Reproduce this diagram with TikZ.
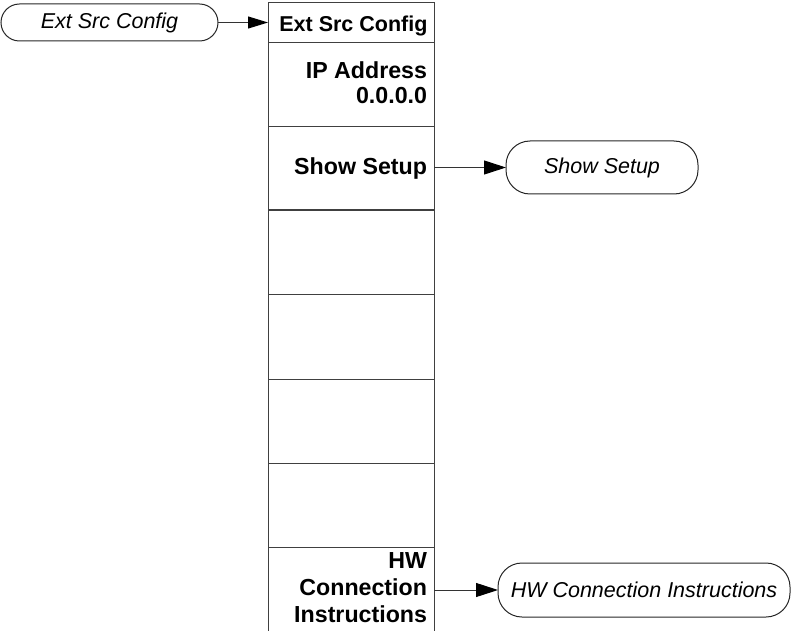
\documentclass[tikz,border=0pt]{standalone}
\usepackage{fontspec}
\setmainfont{Liberation Sans}
\usetikzlibrary{arrows.meta}
\begin{document}
\begin{tikzpicture}[x=1bp,y=-1bp,
  line width=1bp,
  every node/.style={outer sep=0pt},
  cell/.style={draw=black!75, minimum width=166bp, inner sep=0pt, anchor=north west},
  pill/.style={draw=black!85, rounded corners=#1, inner sep=0pt,
    font=\fontsize{21.5bp}{24bp}\selectfont\itshape},
  lbl/.style={anchor=east, align=right, inner sep=0pt,
    font=\fontsize{23.2bp}{#1}\selectfont\bfseries},
  head/.style={anchor=east, inner sep=0pt,
    font=\fontsize{21.5bp}{24bp}\selectfont\bfseries},
  link/.style={draw=black!80, -{Triangle[length=22bp,width=14bp,color=black]}}]
\useasboundingbox (0,0) rectangle (791,631);

% menu column: header and seven soft-key cells (last one runs off the page)
\node[cell, minimum height=40bp] (c0) at (268,3) {};
\node[cell, minimum height=84bp] (c1) at (268,43) {};
\node[cell, minimum height=83bp] (c2) at (268,127) {};
\node[cell, minimum height=84bp] (c3) at (268,210) {};
\node[cell, minimum height=85bp] (c4) at (268,294) {};
\node[cell, minimum height=84bp] (c5) at (268,379) {};
\node[cell, minimum height=84bp] (c6) at (268,463) {};
\node[cell, minimum height=92bp] (c7) at (268,547) {};

% cell labels
\node[head] (t0) at (427.5,25.5) {Ext Src Config};
\node[lbl=25.5bp] (t1) at (427,82.5) {IP Address\\0.0.0.0};
\node[lbl=24bp] (t2) at (427,169) {Show Setup};
\node[lbl=27bp] (t7) at (427,587.5) {HW\\Connection\\Instructions};

% menu references
\node[pill=18.5bp, minimum width=217bp, minimum height=37bp] (p0) at (109.5,22.5) {Ext Src Config};
\node[pill=24bp, minimum width=192bp, minimum height=53bp] (p1) at (602,167.5) {Show Setup};
\node[pill=24bp, minimum width=292bp, minimum height=54bp] (p2) at (644,590) {HW Connection Instructions};

% connectors
\draw[link, -{Triangle[length=20bp,width=12bp,color=black]}] (p0.east) -- (p0.east -| c0.west);
\draw[link] (c2.east |- p1.west) -- (p1.west);
\draw[link] (c7.east |- p2.west) -- (p2.west);
\end{tikzpicture}
\end{document}
